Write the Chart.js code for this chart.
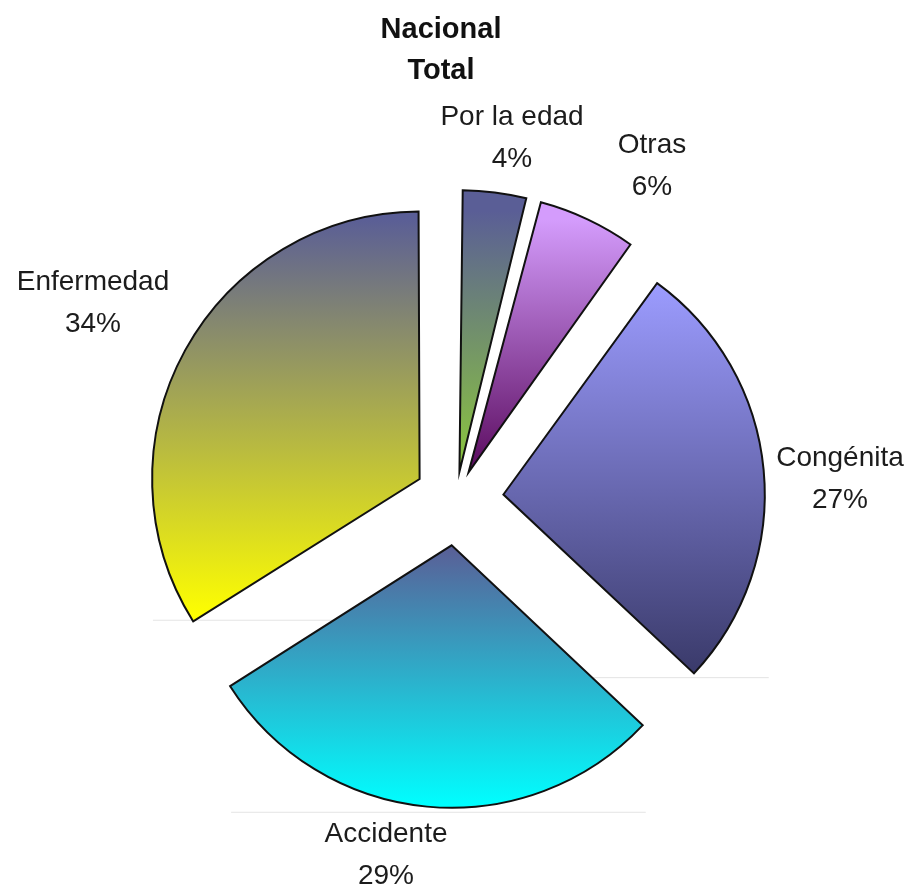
<!DOCTYPE html>
<html lang="es">
<head>
<meta charset="UTF-8">
<title>Nacional Total</title>
<script src="https://cdn.jsdelivr.net/npm/chart.js"></script>
<style>
  html, body { margin: 0; padding: 0; background: #fff; }
  canvas { display: block; }
</style>
</head>
<body>
<canvas id="pieChart" width="915" height="888"></canvas>
<script>
  const titulo = ['Nacional', 'Total'];
  const categorias = ['Por la edad', 'Otras', 'Congénita', 'Accidente', 'Enfermedad'];
  const porcentajes = [4, 6, 27, 29, 34];

  // colores del degradado (arriba -> abajo) de cada porción
  const colorArriba = ['#5a5e96', '#d49cfc', '#9c9cff', '#5a5e96', '#5a5e96'];
  const colorAbajo = ['#8cc83c', '#5a0a5e', '#3a3a6a', '#00ffff', '#ffff00'];

  // centro de cada etiqueta, relativo al centro del pastel
  const posEtiqueta = [[56, -361], [196, -333], [384, -20], [-70, 356], [-363, -196]];

  const SEPARACION = 48;
  const FUENTE = '"Liberation Sans", Arial, sans-serif';
  const total = porcentajes.reduce((a, b) => a + b, 0);

  // Chart.js desplaza offset/4 * (2 - sin(ángulo)); lo compensamos para
  // que todas las porciones queden separadas lo mismo
  function offsetPara(i) {
    const ang = porcentajes[i] / total * 2 * Math.PI;
    return SEPARACION * 4 / (2 - Math.sin(Math.min(Math.PI, ang)));
  }

  function cajaArco(arc) {
    const p = arc.getProps(['x', 'y', 'startAngle', 'endAngle', 'outerRadius'], true);
    let top = p.y, bottom = p.y, left = p.x, right = p.x;
    for (let k = 0; k <= 60; k++) {
      const a = p.startAngle + (p.endAngle - p.startAngle) * k / 60;
      const px = p.x + Math.cos(a) * p.outerRadius;
      const py = p.y + Math.sin(a) * p.outerRadius;
      top = Math.min(top, py); bottom = Math.max(bottom, py);
      left = Math.min(left, px); right = Math.max(right, px);
    }
    const mid = (p.startAngle + p.endAngle) / 2;
    return { top, bottom, left, right, dx: Math.cos(mid) * SEPARACION, dy: Math.sin(mid) * SEPARACION };
  }

  const degradados = {
    id: 'degradados',
    beforeDatasetsDraw(chart) {
      const ctx = chart.ctx;
      chart.getDatasetMeta(0).data.forEach((arc, i) => {
        const c = cajaArco(arc);
        const g = ctx.createLinearGradient(0, c.top, 0, c.bottom);
        g.addColorStop(0, colorArriba[i]);
        g.addColorStop(1, colorAbajo[i]);
        arc.options.backgroundColor = g;

        // línea de sombra tenue bajo las porciones grandes
        if (i >= 2) {
          ctx.save();
          ctx.strokeStyle = '#e4e4e4';
          ctx.lineWidth = 1;
          ctx.beginPath();
          ctx.moveTo(c.left + c.dx, c.bottom + c.dy + 4.5);
          ctx.lineTo(c.right + c.dx + 4, c.bottom + c.dy + 4.5);
          ctx.stroke();
          ctx.restore();
        }
      });
    }
  };

  const textos = {
    id: 'textos',
    afterDraw(chart) {
      const ctx = chart.ctx;
      const area = chart.chartArea;
      const cx = (area.left + area.right) / 2;
      const cy = (area.top + area.bottom) / 2;
      ctx.save();
      ctx.textAlign = 'center';
      ctx.textBaseline = 'middle';
      ctx.fillStyle = '#111';
      ctx.font = 'bold 29px ' + FUENTE;
      titulo.forEach((t, k) => ctx.fillText(t, cx - 15, 30 + k * 41));

      ctx.fillStyle = '#1c1c1c';
      ctx.font = '28px ' + FUENTE;
      categorias.forEach((nombre, i) => {
        const x = cx + posEtiqueta[i][0];
        const y = cy + posEtiqueta[i][1];
        ctx.fillText(nombre, x, y - 21);
        ctx.fillText(porcentajes[i] + '%', x, y + 21);
      });
      ctx.restore();
    }
  };

  new Chart(document.getElementById('pieChart'), {
    type: 'pie',
    data: {
      labels: categorias,
      datasets: [{
        data: porcentajes,
        backgroundColor: colorArriba,
        borderColor: '#111',
        borderWidth: 2,
        borderJoinStyle: 'miter',
        offset: ctx => offsetPara(ctx.dataIndex)
      }]
    },
    options: {
      responsive: false,
      animation: false,
      events: [],
      radius: 261,
      layout: { padding: { left: 0, right: 3, top: 110, bottom: 0 } },
      plugins: {
        legend: { display: false },
        title: { display: false },
        tooltip: { enabled: false }
      }
    },
    plugins: [degradados, textos]
  });
</script>
</body>
</html>
